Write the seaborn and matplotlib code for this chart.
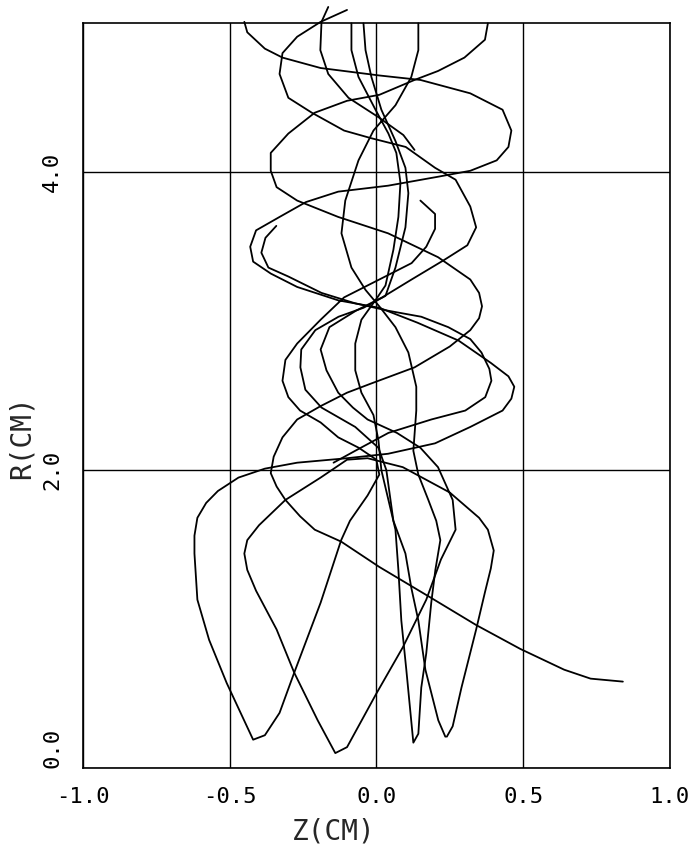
import numpy as np
import pandas as pd
import matplotlib
matplotlib.use("Agg")
import matplotlib.pyplot as plt
import seaborn as sns

# Particle orbits in the (Z, R) plane, each a list of (Z [cm], R [cm]) points.
orbit_a = [(-0.45, 5.01), (-0.44, 4.94), (-0.38, 4.83), (-0.32, 4.77), (-0.19, 4.70),
           (0.01, 4.65), (0.15, 4.62), (0.32, 4.53), (0.43, 4.42), (0.46, 4.28),
           (0.45, 4.17), (0.41, 4.08), (0.32, 4.01), (0.21, 3.97), (0.04, 3.91),
           (-0.13, 3.87), (-0.24, 3.80), (-0.33, 3.70), (-0.41, 3.61), (-0.43, 3.50),
           (-0.42, 3.40), (-0.36, 3.32), (-0.27, 3.23), (-0.13, 3.14), (0.01, 3.09),
           (0.14, 2.99), (0.28, 2.87), (0.39, 2.72), (0.45, 2.63), (0.47, 2.56),
           (0.46, 2.48), (0.43, 2.40), (0.32, 2.29), (0.20, 2.18), (0.04, 2.11), (-0.10, 2.08),
           (-0.27, 2.05), (-0.38, 2.01), (-0.47, 1.95), (-0.54, 1.86), (-0.58, 1.78),
           (-0.61, 1.68), (-0.62, 1.56), (-0.62, 1.44), (-0.61, 1.13), (-0.57, 0.86),
           (-0.51, 0.57), (-0.42, 0.19), (-0.38, 0.22), (-0.33, 0.37), (-0.28, 0.64),
           (-0.19, 1.11), (-0.12, 1.53), (-0.09, 1.66), (-0.03, 1.83), (0.01, 1.97),
           (0.00, 2.07), (-0.06, 2.15), (-0.13, 2.22), (-0.19, 2.32), (-0.26, 2.40),
           (-0.30, 2.49), (-0.32, 2.60), (-0.31, 2.74), (-0.27, 2.85), (-0.19, 3.01),
           (-0.11, 3.16), (-0.01, 3.26), (0.06, 3.33), (0.12, 3.39), (0.17, 3.50),
           (0.20, 3.62), (0.20, 3.72), (0.15, 3.81)]

orbit_e = [(0.84, 0.58), (0.73, 0.60), (0.64, 0.66), (0.49, 0.80), (0.34, 0.96),
           (0.18, 1.15), (0.01, 1.35), (-0.12, 1.52), (-0.21, 1.60), (-0.26, 1.69),
           (-0.31, 1.80), (-0.34, 1.89), (-0.36, 1.98), (-0.35, 2.09), (-0.32, 2.22),
           (-0.27, 2.34), (-0.19, 2.43), (-0.10, 2.52), (-0.02, 2.58), (0.13, 2.69),
           (0.25, 2.83), (0.32, 2.94), (0.35, 3.02), (0.36, 3.10), (0.35, 3.19),
           (0.32, 3.28), (0.21, 3.43), (0.04, 3.59), (-0.13, 3.70), (-0.27, 3.81),
           (-0.34, 3.90), (-0.36, 4.01), (-0.36, 4.13), (-0.30, 4.26), (-0.21, 4.40),
           (-0.10, 4.48), (0.01, 4.52), (0.13, 4.62), (0.21, 4.68), (0.30, 4.77),
           (0.37, 4.89), (0.38, 5.00)]

orbit_bd = [(0.24, 0.21), (0.26, 0.28), (0.29, 0.54), (0.34, 0.93), (0.37, 1.18),
            (0.39, 1.34), (0.40, 1.46), (0.38, 1.60), (0.35, 1.68), (0.25, 1.85),
            (0.09, 2.02), (-0.03, 2.08), (-0.10, 2.07), (-0.19, 1.95), (-0.31, 1.80),
            (-0.40, 1.63), (-0.44, 1.53), (-0.45, 1.44), (-0.44, 1.33), (-0.41, 1.19),
            (-0.34, 0.93), (-0.28, 0.64), (-0.20, 0.32), (-0.14, 0.10), (-0.10, 0.14),
            (0.00, 0.50), (0.09, 0.81), (0.17, 1.13), (0.22, 1.40), (0.27, 1.60),
            (0.26, 1.80), (0.21, 2.02), (0.15, 2.15), (0.07, 2.25), (-0.03, 2.34),
            (-0.08, 2.42), (-0.13, 2.52), (-0.17, 2.67), (-0.19, 2.81), (-0.16, 2.96),
            (-0.07, 3.07), (0.02, 3.16), (0.12, 3.28), (0.23, 3.41), (0.31, 3.51),
            (0.34, 3.63), (0.32, 3.77), (0.27, 3.95), (0.20, 4.03), (0.10, 4.17),
            (-0.02, 4.23), (-0.11, 4.28), (-0.22, 4.40), (-0.30, 4.50), (-0.33, 4.66),
            (-0.32, 4.80), (-0.27, 4.91), (-0.19, 5.01), (-0.10, 5.09)]

orbit_c = [(-0.085, 5.00), (-0.085, 4.82), (-0.061, 4.64), (-0.003, 4.42), (0.041, 4.26),
           (0.068, 4.13), (0.082, 3.93), (0.075, 3.70), (0.058, 3.48), (0.031, 3.24),
           (0.000, 3.15), (-0.051, 3.01), (-0.072, 2.85), (-0.072, 2.67), (-0.051, 2.52),
           (-0.010, 2.37), (0.007, 2.20), (0.017, 2.00), (0.041, 1.80), (0.065, 1.60),
           (0.075, 1.33), (0.085, 0.99), (0.102, 0.66), (0.126, 0.17), (0.143, 0.23),
           (0.153, 0.54), (0.170, 0.77), (0.187, 1.11), (0.201, 1.33), (0.218, 1.53),
           (0.204, 1.66), (0.177, 1.80), (0.143, 1.97), (0.126, 2.13), (0.136, 2.40),
           (0.136, 2.56), (0.109, 2.79), (0.065, 2.96), (0.014, 3.09), (-0.037, 3.21),
           (-0.085, 3.36), (-0.119, 3.59), (-0.106, 3.81), (-0.061, 4.08), (-0.010, 4.28),
           (0.065, 4.45), (0.119, 4.64), (0.143, 4.82), (0.143, 5.00)]

orbit_d = [(-0.044, 5.00), (-0.037, 4.82), (-0.017, 4.64), (0.017, 4.42), (0.065, 4.21),
           (0.099, 4.03), (0.109, 3.86), (0.099, 3.63), (0.065, 3.36), (0.031, 3.17),
           (-0.044, 3.09), (-0.129, 3.03), (-0.208, 2.94), (-0.256, 2.81), (-0.259, 2.69),
           (-0.242, 2.54), (-0.187, 2.42), (-0.072, 2.29), (0.007, 2.15), (0.034, 2.00),
           (0.058, 1.66), (0.099, 1.44), (0.119, 1.21), (0.143, 0.99), (0.167, 0.66),
           (0.211, 0.32), (0.235, 0.21)]

orbit_g = [(-0.341, 3.64), (-0.378, 3.56), (-0.392, 3.46), (-0.368, 3.36), (-0.300, 3.30),
           (-0.187, 3.19), (-0.072, 3.12), (0.041, 3.07), (0.153, 3.03), (0.245, 2.96),
           (0.320, 2.88), (0.358, 2.79), (0.385, 2.68), (0.392, 2.60), (0.371, 2.49),
           (0.303, 2.40), (0.187, 2.34), (0.041, 2.25), (-0.072, 2.13), (-0.146, 2.05)]

orbit_f = [(-0.164, 5.11), (-0.187, 5.01), (-0.191, 4.82), (-0.164, 4.66), (-0.095, 4.50),
           (0.007, 4.37), (0.092, 4.25), (0.130, 4.15)]

orbits = {"a": orbit_a, "e": orbit_e, "bd": orbit_bd, "c": orbit_c,
          "d": orbit_d, "g": orbit_g, "f": orbit_f}

z_ticks = [-1.0, -0.5, 0.0, 0.5, 1.0]
z_tick_labels = ["-1.0", "-0.5", "0.0", "0.5", "1.0"]
r_ticks = [0.0, 2.0, 4.0]
r_tick_labels = ["0.0", "2.0", "4.0"]

rows = []
for name, pts in orbits.items():
    for i, (z, r) in enumerate(pts):
        rows.append({"orbit": name, "step": i, "Z": z, "R": r})
df = pd.DataFrame(rows)

sns.set_style("white")
plt.rcParams["font.family"] = ["DejaVu Sans Mono", "DejaVu Sans"]

fig = plt.figure(figsize=(6.97, 8.52), dpi=100)
ax = fig.add_axes([0.119, 0.0986, 0.842, 0.874])

sns.lineplot(data=df, x="Z", y="R", units="orbit", estimator=None, sort=False,
             color="black", linewidth=1.3, legend=False, ax=ax, clip_on=False)

ax.set_xlim(-1.0, 1.0)
ax.set_ylim(0.0, 5.0)

ax.set_xticks(z_ticks)
ax.set_xticklabels(z_tick_labels, fontsize=16)
ax.set_yticks(r_ticks)
ax.set_yticklabels(r_tick_labels, fontsize=16, rotation=90, va="center")
ax.get_yticklabels()[0].set_va("bottom")

ax.tick_params(axis="both", direction="out", length=8, width=1.0, color="black",
               labelcolor="black")
ax.tick_params(axis="x", pad=6)
ax.tick_params(axis="y", pad=7)

ax.grid(True, color="black", linewidth=1.0)
for s in ax.spines.values():
    s.set_visible(True)
    s.set_color("black")
    s.set_linewidth(1.2)

ax.set_xlabel("Z(CM)", fontsize=20)
ax.set_ylabel("R(CM)", fontsize=20)
ax.xaxis.set_label_coords(0.428, -0.066)
ax.yaxis.set_label_coords(-0.08, 0.444)

fig.savefig("out.png", dpi=100, facecolor="white")
